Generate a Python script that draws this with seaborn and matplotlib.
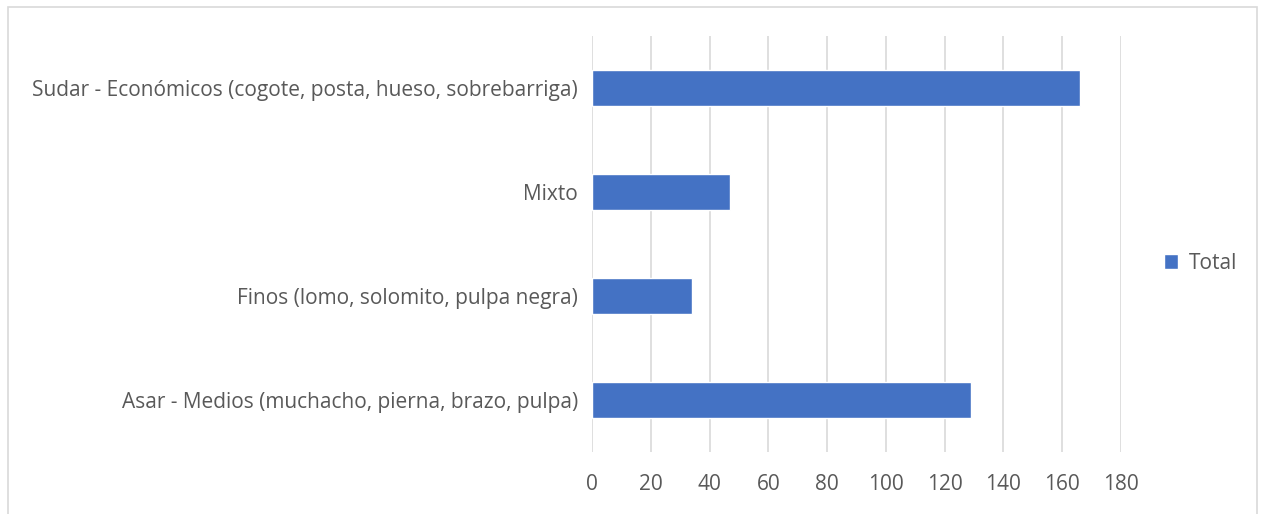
import pandas as pd
import matplotlib.pyplot as plt
import seaborn as sns
from matplotlib.patches import Rectangle

categories = [
    "Sudar - Económicos (cogote, posta, hueso, sobrebarriga)",
    "Mixto",
    "Finos (lomo, solomito, pulpa negra)",
    "Asar - Medios (muchacho, pierna, brazo, pulpa)",
]
totals = [166, 47, 34, 129]
series = ["Total"] * len(categories)

df = pd.DataFrame({"categoria": categories, "valor": totals, "serie": series})

sns.set_style("white")
plt.rcParams["font.family"] = ["Open Sans", "DejaVu Sans"]
text_color = "#595959"

fig = plt.figure(figsize=(12.61, 5.14), dpi=100)
ax = fig.add_axes([0.4695, 0.1206, 0.4195, 0.8094])

sns.barplot(data=df, x="valor", y="categoria", hue="serie", orient="h",
            palette=["#4472C4"], width=0.35, ax=ax, saturation=1)

ax.set_xlim(0, 180)
ax.set_ylim(3.5, -0.5)
ax.set_xticks(range(0, 181, 20))
ax.grid(axis="x", color="#d9d9d9", linewidth=1.2)
ax.set_axisbelow(True)
for s in ax.spines.values():
    s.set_visible(False)
ax.tick_params(axis="both", length=0, colors=text_color, labelsize=15)
ax.tick_params(axis="x", pad=16)
ax.tick_params(axis="y", pad=10)
ax.set_xlabel("")
ax.set_ylabel("")

leg = ax.legend(loc="center left", bbox_to_anchor=(1.045, 0.454), frameon=False,
                fontsize=15, handlelength=0.7, handleheight=0.7, handletextpad=0.5)
for t in leg.get_texts():
    t.set_color(text_color)

fig.patches.append(Rectangle((0.006, -0.01), 0.991, 0.997, transform=fig.transFigure,
                             fill=False, edgecolor="#d9d9d9", linewidth=1.2))

fig.savefig("out.png", dpi=100)
